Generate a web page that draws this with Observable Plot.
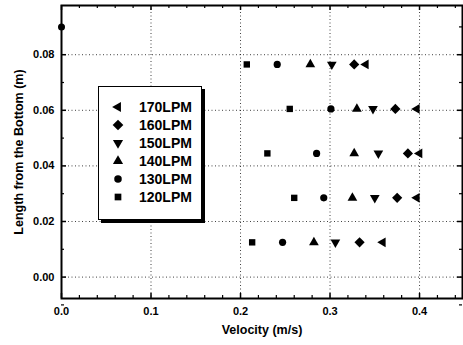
<!DOCTYPE html>
<html><head><meta charset="utf-8">
<script src="https://cdn.jsdelivr.net/npm/d3@7"></script>
<script src="https://cdn.jsdelivr.net/npm/@observablehq/plot@0.6"></script>
<style>
body{margin:0;background:#fff;font-family:"Liberation Sans",Arial,sans-serif;}
#wrap{position:relative;width:463px;height:345px;}
#legend{position:absolute;left:98px;top:86px;width:102px;height:132px;border:1.5px solid #000;box-shadow:3px 3px 0 #000;background:#fff;}
.row{position:absolute;left:0;height:18px;display:flex;align-items:center;}
.row svg{margin-left:13px;flex:none;}
.row span{margin-left:15px;font-size:14px;font-weight:bold;color:#000;}
</style></head><body><div id="wrap"></div><script>
// data
const heights = [0.0765, 0.0605, 0.0445, 0.0285, 0.0125];
const series = ["170LPM", "160LPM", "150LPM", "140LPM", "130LPM", "120LPM"];
const v170 = [0.340, 0.397, 0.400, 0.397, 0.359];
const v160 = [0.327, 0.373, 0.387, 0.375, 0.333];
const v150 = [0.302, 0.348, 0.354, 0.350, 0.306];
const v140 = [0.278, 0.330, 0.327, 0.325, 0.282];
const v130 = [0.241, 0.301, 0.285, 0.293, 0.247];
const v120 = [0.207, 0.255, 0.230, 0.260, 0.213];
const wallVelocity = [0.0];
const wallHeight = [0.09];
const xTicks = [0.0, 0.1, 0.2, 0.3, 0.4];
const yTicks = [0.00, 0.02, 0.04, 0.06, 0.08];
const xMinor = [0.02,0.04,0.06,0.08,0.12,0.14,0.16,0.18,0.22,0.24,0.26,0.28,0.32,0.34,0.36,0.38,0.42,0.44];
const yMinor = [-0.01,0.01,0.03,0.05,0.07,0.09];

const s3 = Math.sqrt(3);
const triDown = {draw(ctx, size){const y = -Math.sqrt(size/(s3*3)); ctx.moveTo(0,-2*y); ctx.lineTo(-s3*y, y); ctx.lineTo(s3*y, y); ctx.closePath();}};
const triLeft = {draw(ctx, size){const y = -Math.sqrt(size/(s3*3)); ctx.moveTo(2*y,0); ctx.lineTo(-y, -s3*y); ctx.lineTo(-y, s3*y); ctx.closePath();}};
const symbols = [triLeft, d3.symbolDiamond2, triDown, d3.symbolTriangle, d3.symbolCircle, d3.symbolSquare];
const radii = [3.6, 4.6, 3.6, 3.6, 3.6, 3.6];
const values = [v170, v160, v150, v140, v130, v120];

const data = [];
series.forEach((s, i) => values[i].forEach((v, j) => data.push({series: s, v, h: heights[j], k: i})));
const wall = wallVelocity.map((v, i) => ({v, h: wallHeight[i]}));

const W = 463, H = 345, mL = 61, mR = 1, mT = 5, mB = 47;
const innerH = H - mT - mB, innerW = W - mL - mR;

const marks = [
  Plot.gridX(xTicks.slice(1), {stroke: "#000", strokeOpacity: 0.75, strokeDasharray: "1,2.5"}),
  Plot.gridY(yTicks, {stroke: "#000", strokeOpacity: 0.75, strokeDasharray: "1,2.5"}),
  // inward ticks: bottom, top, left, right
  Plot.tickX(xMinor, {x: d => d, insetTop: innerH - 3, stroke: "#000", strokeWidth: 1.2}),
  Plot.tickX(xTicks, {x: d => d, insetTop: innerH - 5, stroke: "#000", strokeWidth: 1.5}),
  Plot.tickX(xMinor, {x: d => d, insetBottom: innerH - 3, stroke: "#000", strokeWidth: 1.2}),
  Plot.tickX(xTicks, {x: d => d, insetBottom: innerH - 5, stroke: "#000", strokeWidth: 1.5}),
  Plot.tickY(yMinor, {y: d => d, insetRight: innerW - 3, stroke: "#000", strokeWidth: 1.2}),
  Plot.tickY(yTicks, {y: d => d, insetRight: innerW - 5, stroke: "#000", strokeWidth: 1.5}),
  Plot.tickY(yMinor, {y: d => d, insetLeft: innerW - 3, stroke: "#000", strokeWidth: 1.2}),
  Plot.tickY(yTicks, {y: d => d, insetLeft: innerW - 5, stroke: "#000", strokeWidth: 1.5}),
  Plot.axisX({ticks: xTicks, tickSize: 0, tickPadding: 9, tickFormat: d3.format(".1f"), label: null, anchor: "bottom"}),
  Plot.axisY({ticks: yTicks, tickSize: 0, tickPadding: 7, tickFormat: d3.format(".2f"), label: null, anchor: "left"}),
  Plot.frame({stroke: "#000", strokeWidth: 2}),
  Plot.dot(wall, {x: "v", y: "h", r: 3.5, fill: "#000", symbol: "circle"}),
  ...series.map((s, i) => Plot.dot(data.filter(d => d.k === i), {x: "v", y: "h", r: radii[i], fill: "#000", stroke: "none", symbol: symbols[i]})),
  Plot.text(["Velocity (m/s)"], {frameAnchor: "bottom", textAnchor: "middle", dy: 35, fontSize: 12.5, fontWeight: "bold", fill: "#000"}),
  Plot.text(["Length from the Bottom (m)"], {frameAnchor: "left", textAnchor: "middle", dx: -43, rotate: -90, fontSize: 12.5, fontWeight: "bold", fill: "#000"})
];

const chart = Plot.plot({
  width: W, height: H,
  marginLeft: mL, marginRight: mR, marginTop: mT, marginBottom: mB,
  x: {domain: [0, 0.448], axis: null},
  y: {domain: [-0.0077, 0.0977], axis: null},
  style: {fontFamily: "'Liberation Sans', Arial, sans-serif", fontSize: "11px", fontWeight: "bold", color: "#000", background: "#fff"},
  marks
});
const wrap = document.getElementById("wrap");
wrap.appendChild(chart);

const legend = document.createElement("div");
legend.id = "legend";
series.forEach((s, i) => {
  const row = document.createElement("div");
  row.className = "row";
  row.style.top = (11 + i * 17.9) + "px";
  const svg = d3.create("svg").attr("width", 12).attr("height", 12);
  svg.append("path").attr("transform", "translate(6,6)").attr("d", d3.symbol().type(symbols[i]).size(Math.PI * radii[i] * radii[i] * 1.1)()).attr("fill", "#000");
  row.appendChild(svg.node());
  const sp = document.createElement("span");
  sp.textContent = s;
  row.appendChild(sp);
  legend.appendChild(row);
});
wrap.appendChild(legend);
</script></body></html>
